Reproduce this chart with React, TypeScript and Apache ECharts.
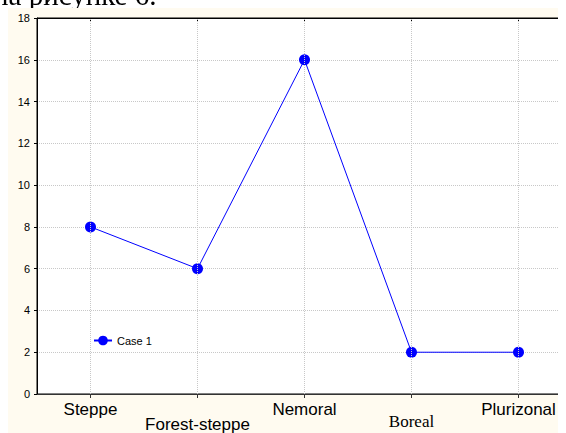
import React, { useEffect, useRef } from "react";
import * as echarts from "echarts";

const categories = ["Steppe", "Forest-steppe", "Nemoral", "Boreal", "Plurizonal"];
const case1Values = [8, 6, 16, 2, 2];
const seriesName = "Case 1";
const captionText = "на рисунке 6.";

export default function App() {
  const ref = useRef<HTMLDivElement>(null);
  useEffect(() => {
    if (!ref.current) return;
    const chart = echarts.init(ref.current, null, { renderer: "svg" });
    chart.setOption({
      animation: false,
      backgroundColor: "#fffbf0",
      textStyle: { fontFamily: "Liberation Sans, Arial, sans-serif" },
      grid: {
        left: 29,
        top: 10,
        width: 535,
        height: 376,
        show: true,
        backgroundColor: "#ffffff",
        borderColor: "#000000",
        borderWidth: 1,
        outerBoundsMode: "none",
        containLabel: false,
      },
      legend: {
        left: 80,
        top: 322,
        itemWidth: 18,
        itemHeight: 12,
        itemGap: 4,
        textStyle: { fontSize: 11, color: "#000" },
        data: [seriesName],
      },
      xAxis: [
        {
          type: "category",
          data: categories,
          boundaryGap: true,
          axisLine: { lineStyle: { color: "#333", width: 1 } },
          axisTick: { show: true, alignWithLabel: true, length: 4, lineStyle: { color: "#333" } },
          splitLine: { show: false },
          axisLabel: {
            interval: 0,
            margin: 7,
            formatter: (v: string, i: number) => {
              if (i === 1) return "{low|" + v + "}";
              if (i === 3) return "{serif|" + v + "}";
              return "{top|" + v + "}";
            },
            rich: {
              top: { fontSize: 17, color: "#000", fontFamily: "Liberation Sans, Arial" },
              low: { fontSize: 17, color: "#000", fontFamily: "Liberation Sans, Arial", padding: [15, 0, 0, 0] },
              serif: { fontSize: 17, color: "#000", fontFamily: "Liberation Serif, Times New Roman, serif", padding: [12, 0, 0, 0] },
            },
          },
        },
        {
          type: "category",
          data: categories,
          position: "top",
          boundaryGap: true,
          axisLine: { lineStyle: { color: "#000", width: 1 } },
          axisTick: { show: true, inside: true, alignWithLabel: true, length: 3, lineStyle: { color: "#000" } },
          axisLabel: { show: false },
          splitLine: { show: false },
        },
      ],
      yAxis: {
        type: "value",
        min: 0,
        max: 18,
        interval: 2,
        axisLine: { show: true, lineStyle: { color: "#000", width: 1 } },
        axisTick: { show: true, length: 3, lineStyle: { color: "#000" } },
        splitLine: { show: true, lineStyle: { color: "#c8c8c8", type: "dotted" } },
        axisLabel: { fontSize: 11, color: "#000", margin: 7 },
      },
      series: [
        {
          name: "grid-lines",
          type: "line",
          data: categories.map(() => null),
          z: 1,
          silent: true,
          showSymbol: false,
          markLine: {
            silent: true,
            symbol: ["none", "none"],
            label: { show: false },
            lineStyle: { color: "#c8c8c8", type: "dotted", width: 1 },
            data: categories.map((c) => ({ xAxis: c })),
          },
        },
        {
          name: seriesName,
          type: "line",
          data: case1Values,
          z: 3,
          symbol: "circle",
          symbolSize: 11,
          lineStyle: { color: "#0000ff", width: 1 },
          itemStyle: { color: "#0000ff" },
        },
      ],
    });
    return () => chart.dispose();
  }, []);
  return (
    <div style={{ position: "relative" }}>
      <div
        style={{
          position: "fixed",
          left: -7,
          top: -21,
          fontFamily: "Liberation Serif, Times New Roman, serif",
          fontSize: 29,
          color: "#000",
          whiteSpace: "nowrap",
          lineHeight: "normal",
        }}
      >
        {captionText}
      </div>
      <div ref={ref} style={{ width: 558, height: 425, position: "relative", zIndex: 1 }} />
    </div>
  );
}
